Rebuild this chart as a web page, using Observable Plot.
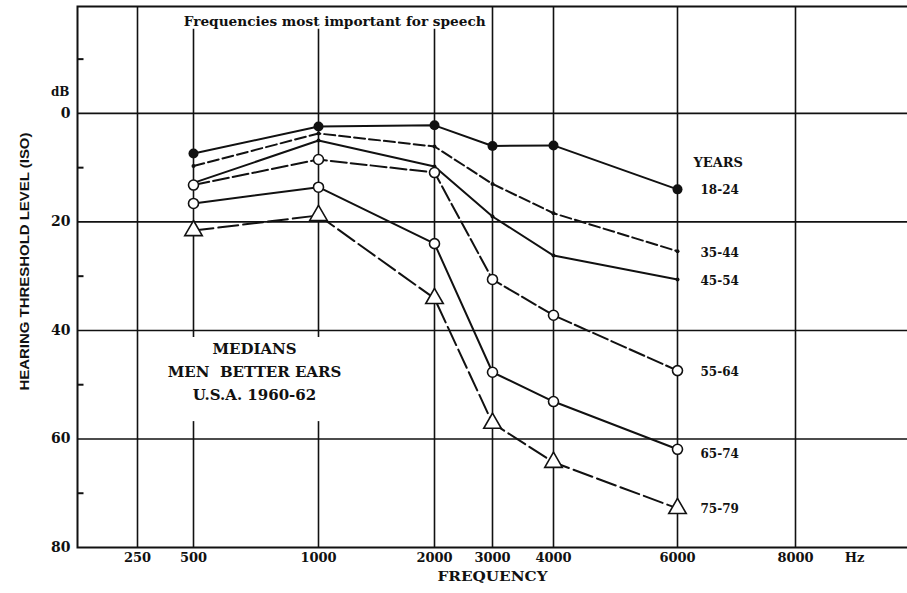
<!DOCTYPE html>
<html><head><meta charset="utf-8">
<script src="https://cdn.jsdelivr.net/npm/d3@7"></script>
<script src="https://cdn.jsdelivr.net/npm/@observablehq/plot@0.6"></script>
<style>
html,body{margin:0;padding:0;background:#fff;overflow:hidden;}
#chart svg{display:block;}
#chart g[aria-label^="y-axis"] text{font-size:14px;}
</style></head><body><div id="chart"></div>
<script>
// ---- data ----
const freqTicks = [250, 500, 1000, 2000, 3000, 4000, 6000, 8000];
const freqs = [500, 1000, 2000, 3000, 4000, 6000];
const dbTicks = [0, 20, 40, 60, 80];
const dbMinorTicks = [-10, 10, 30, 50, 70];
const ageGroups = ["18-24", "35-44", "45-54", "55-64", "65-74", "75-79"];
const age18_24 = [7.4, 2.4, 2.2, 6.0, 5.9, 14.0];
const age35_44 = [9.7, 3.7, 6.1, 13.0, 18.4, 25.4];
const age45_54 = [12.8, 5.0, 9.8, 19.0, 26.2, 30.6];
const age55_64 = [13.2, 8.5, 10.9, 30.6, 37.2, 47.4];
const age65_74 = [16.6, 13.6, 24.0, 47.7, 53.1, 61.9];
const age75_79 = [21.6, 18.8, 34.1, 57.1, 64.3, 72.8];
const seriesValues = [age18_24, age35_44, age45_54, age55_64, age65_74, age75_79];

const rows = ageGroups.flatMap((g, i) => freqs.map((f, j) => ({group: g, freq: f, db: seriesValues[i][j]})));
const lastPoints = ageGroups.map((g, i) => ({group: g, freq: freqs[freqs.length - 1], db: seriesValues[i][freqs.length - 1]}));

// ---- styles ----
const styles = {
  "18-24": {dash: null, marker: "filled", labelDy: 1},
  "35-44": {dash: "11,4", marker: "small", labelDy: 2},
  "45-54": {dash: null, marker: "small", labelDy: 2},
  "55-64": {dash: "16,4", marker: "open", labelDy: 2},
  "65-74": {dash: null, marker: "open", labelDy: 5},
  "75-79": {dash: "20,5", marker: "triangle", labelDy: 1}
};
const xRange = [137, 193, 318, 434, 492, 553, 677, 795];
const tickRight = {draw(ctx) { ctx.moveTo(0, 0); ctx.lineTo(6, 0); }};

const marks = [
  Plot.ruleX([250, 3000, 4000, 6000, 8000], {stroke: "#111", strokeWidth: 1.6}),
  Plot.ruleX([500, 1000], {y1: -15.5, y2: 41.3, stroke: "#111", strokeWidth: 1.6}),
  Plot.ruleX([500, 1000], {y1: 56.8, y2: 80, stroke: "#111", strokeWidth: 1.6}),
  Plot.ruleX([2000], {y1: -15.5, y2: 80, stroke: "#111", strokeWidth: 1.6}),
  Plot.ruleY([0, 20, 40, 60], {stroke: "#111", strokeWidth: 1.6}),
  Plot.frame({stroke: "#111", strokeWidth: 2}),
  Plot.dot(dbMinorTicks, {y: d => d, frameAnchor: "left", symbol: tickRight, stroke: "#111", strokeWidth: 2, fill: "none"})
];

for (const g of ageGroups) {
  const s = styles[g];
  const data = rows.filter(d => d.group === g);
  marks.push(Plot.line(data, {x: "freq", y: "db", stroke: "#111", strokeWidth: 2, strokeDasharray: s.dash || undefined}));
}
for (const g of ageGroups) {
  const s = styles[g];
  const data = rows.filter(d => d.group === g);
  if (s.marker === "filled") marks.push(Plot.dot(data, {x: "freq", y: "db", r: 5, fill: "#111"}));
  if (s.marker === "small") marks.push(Plot.dot(data, {x: "freq", y: "db", r: 2, fill: "#111"}));
  if (s.marker === "open") marks.push(Plot.dot(data, {x: "freq", y: "db", r: 5, fill: "white", stroke: "#111", strokeWidth: 1.6}));
  if (s.marker === "triangle") marks.push(Plot.dot(data, {x: "freq", y: "db", r: 6.5, symbol: "triangle", fill: "white", stroke: "#111", strokeWidth: 1.6}));
}
for (const g of ageGroups) {
  const p = lastPoints.filter(d => d.group === g);
  marks.push(Plot.text(p, {x: "freq", y: "db", text: "group", dx: 23, dy: styles[g].labelDy, textAnchor: "start", fontSize: 12}));
}

marks.push(
  Plot.text(["YEARS"], {x: 6000, y: 9.2, dx: 16, textAnchor: "start", fontSize: 13}),
  Plot.text(["MEDIANS\nMEN  BETTER EARS\nU.S.A. 1960-62"], {x: 744, y: 47.2, fontSize: 15, lineHeight: 1.53}),
  Plot.text(["Frequencies most important for speech"], {x: 1140, frameAnchor: "top", dy: 11, textAnchor: "middle", fontSize: 12}),
  Plot.text(["dB"], {frameAnchor: "left", y: -4, dx: -8, textAnchor: "end", fontSize: 12}),
  Plot.text(["HEARING THRESHOLD LEVEL (ISO)"], {frameAnchor: "left", y: 27.3, dx: -52, rotate: -90, textAnchor: "middle", fontSize: 12, fontFamily: "Liberation Sans"}),
  Plot.text(["FREQUENCY"], {x: 3000, frameAnchor: "bottom", dy: 33, textAnchor: "middle", fontSize: 13}),
  Plot.text(["Hz"], {x: 9000, frameAnchor: "bottom", dy: 14, textAnchor: "middle", fontSize: 13})
);

const chart = Plot.plot({
  width: 907,
  height: 593,
  marginLeft: 77,
  marginTop: 6,
  marginBottom: 46,
  marginRight: -3,
  style: {fontFamily: "DejaVu Serif", fontWeight: "bold", fontSize: "13px", background: "white", color: "#111", overflow: "visible"},
  x: {type: "linear", domain: freqTicks, range: xRange, ticks: freqTicks, tickFormat: d => String(d), tickSize: 0, tickPadding: 5, label: null},
  y: {domain: [-19.7, 80], reverse: true, ticks: dbTicks, tickSize: 0, tickPadding: 7, label: null},
  marks
});
document.getElementById("chart").appendChild(chart);

// stretch a few texts to the widths seen in the reference
const stretch = {"Frequencies most important for speech": 302, "HEARING THRESHOLD LEVEL (ISO)": 258, "FREQUENCY": 110};
d3.select(chart).selectAll("text").each(function() {
  const w = stretch[this.textContent];
  if (w) d3.select(this).attr("textLength", w).attr("lengthAdjust", "spacingAndGlyphs");
});
</script></body></html>
